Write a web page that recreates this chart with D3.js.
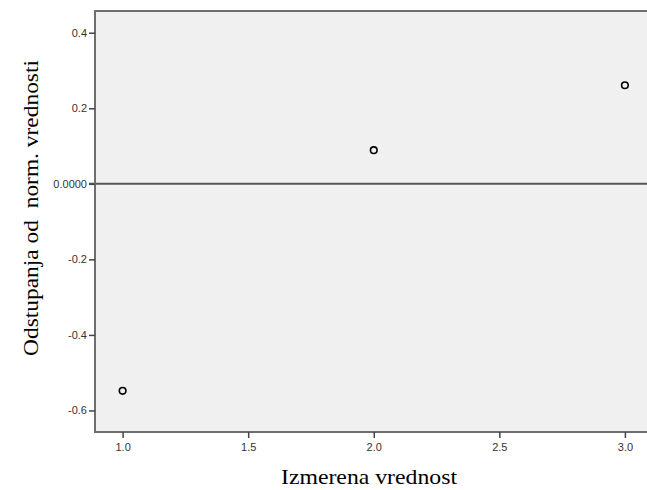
<!DOCTYPE html>
<html>
<head>
<meta charset="utf-8">
<script src="https://cdn.jsdelivr.net/npm/d3@7"></script>
<style>
  html, body { margin: 0; padding: 0; background: #ffffff; }
  svg { display: block; }
</style>
</head>
<body>
<svg id="chart" width="647" height="490"></svg>
<script>
// Observed values and their deviation from the normal expectation
const measured = [1.0, 2.0, 3.0];
const deviation = [-0.548, 0.089, 0.261];

// Axis ticks and their printed labels
const xTicks = [1.0, 1.5, 2.0, 2.5, 3.0];
const xTickLabels = ["1.0", "1.5", "2.0", "2.5", "3.0"];
const yTicks = [-0.6, -0.4, -0.2, 0.0, 0.2, 0.4];
const yTickLabels = ["-0.6", "-0.4", "-0.2", "0.0000", "0.2", "0.4"];

const xTitle = "Izmerena vrednost";
const yTitle = "Odstupanja od  norm. vrednosti";

const svg = d3.select("#chart");

const plot = { left: 95, top: 11, right: 647, bottom: 432 };

const x = d3.scaleLinear().domain([0.89, 3.088]).range([plot.left, plot.right]);
const y = d3.scaleLinear().domain([-0.657, 0.4575]).range([plot.bottom, plot.top]);

// Plot background
svg.append("rect")
  .attr("x", plot.left).attr("y", plot.top)
  .attr("width", plot.right - plot.left + 10)
  .attr("height", plot.bottom - plot.top)
  .attr("fill", "#f0f0f0");

// Reference line at zero deviation
svg.append("line")
  .attr("x1", plot.left - 6).attr("x2", plot.right + 5)
  .attr("y1", y(0)).attr("y2", y(0))
  .attr("stroke", "#555555").attr("stroke-width", 2);

// Frame: left, top and bottom edges
svg.append("path")
  .attr("d", `M${plot.right + 5},${plot.top}H${plot.left}V${plot.bottom}H${plot.right + 5}`)
  .attr("fill", "none")
  .attr("stroke", "#6e6e6e")
  .attr("stroke-width", 2);

// Axes
const yAxis = d3.axisLeft(y)
  .tickValues(yTicks)
  .tickSize(6)
  .tickPadding(2)
  .tickFormat((d, i) => yTickLabels[i]);

const xAxis = d3.axisBottom(x)
  .tickValues(xTicks)
  .tickSize(6)
  .tickPadding(5)
  .tickFormat((d, i) => xTickLabels[i]);

const gy = svg.append("g").attr("transform", `translate(${plot.left},0)`).call(yAxis);
const gx = svg.append("g").attr("transform", `translate(0,${plot.bottom})`).call(xAxis);

[gx, gy].forEach(g => {
  g.select(".domain").remove();
  g.selectAll(".tick line").attr("stroke", "#444444").attr("stroke-width", 1.5);
  g.selectAll(".tick text")
    .attr("fill", "#333333")
    .style("font-family", "Arial, 'Liberation Sans', sans-serif")
    .style("font-size", "11px");
});

// Points
svg.append("g")
  .selectAll("circle")
  .data(measured)
  .join("circle")
  .attr("cx", (d) => x(d))
  .attr("cy", (d, i) => y(deviation[i]))
  .attr("r", 3.3)
  .attr("fill", "none")
  .attr("stroke", "#000000")
  .attr("stroke-width", 1.6);

// Axis titles
svg.append("text")
  .attr("x", 369).attr("y", 484)
  .attr("text-anchor", "middle")
  .attr("textLength", 176)
  .attr("lengthAdjust", "spacingAndGlyphs")
  .style("font-family", "'Times New Roman', 'Liberation Serif', serif")
  .style("font-size", "22px")
  .attr("fill", "#000000")
  .text(xTitle);

svg.append("text")
  .attr("transform", "translate(38,208) rotate(-90)")
  .attr("text-anchor", "middle")
  .attr("textLength", 296)
  .attr("lengthAdjust", "spacingAndGlyphs")
  .style("font-family", "'Times New Roman', 'Liberation Serif', serif")
  .style("font-size", "22px")
  .attr("fill", "#000000")
  .attr("xml:space", "preserve")
  .style("white-space", "pre")
  .text(yTitle);
</script>
</body>
</html>
